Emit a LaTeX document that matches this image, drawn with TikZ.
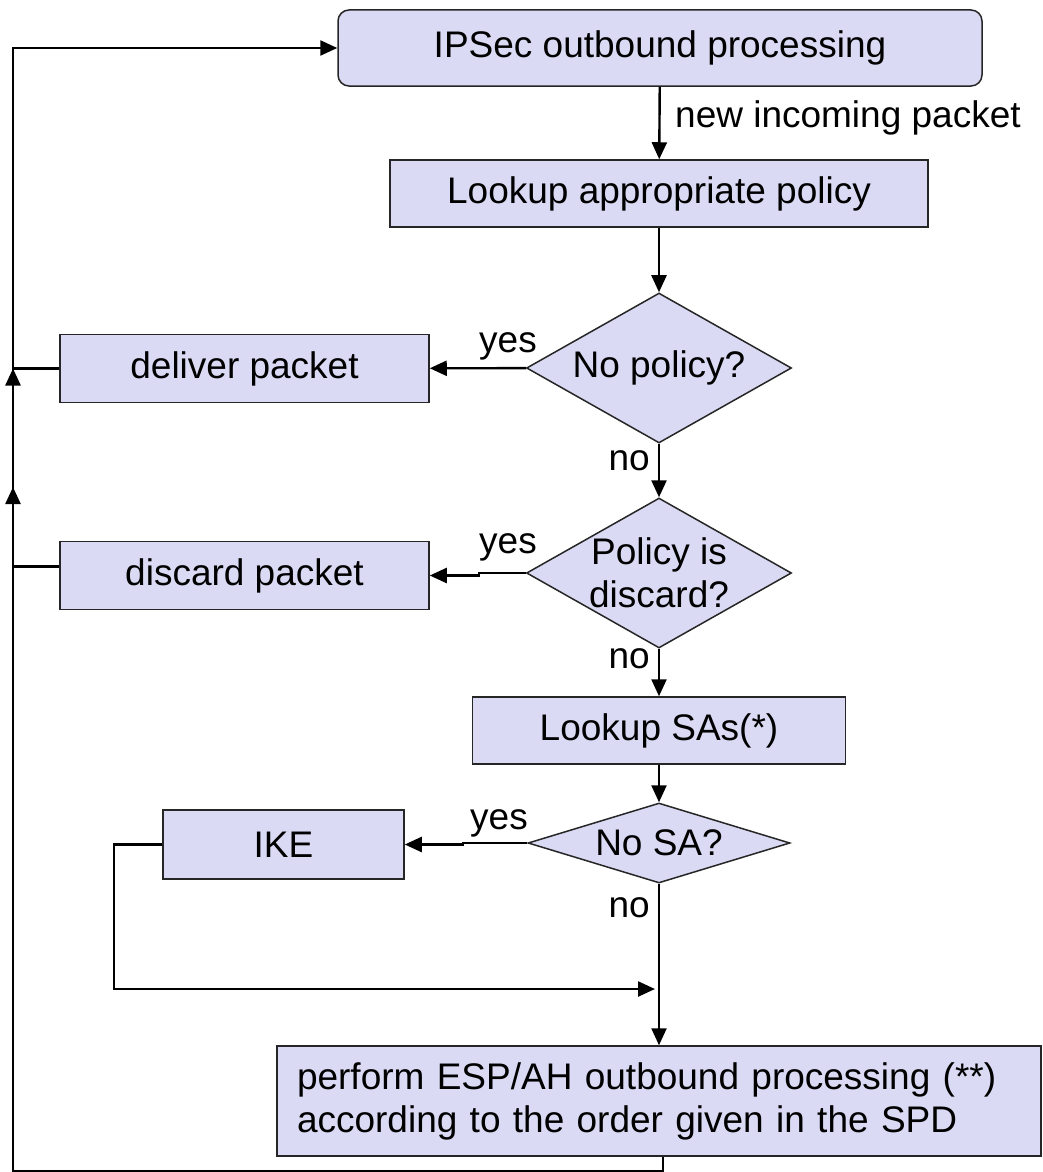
\documentclass[tikz,border=0pt]{standalone}
\usepackage{fontspec}
\setmainfont{Liberation Sans}
\usetikzlibrary{shapes.geometric,arrows.meta,calc}
\definecolor{boxfill}{RGB}{218,218,244}
\tikzset{
  box/.style={draw=black!85,line width=1.5pt,fill=boxfill,inner sep=0pt,minimum height=68pt},
  dia/.style={box,diamond,minimum width=265pt,minimum height=150pt,aspect=1.77,inner sep=-6pt,align=center},
  arr/.style={line width=2.4pt,-{Triangle[length=17pt,width=15pt]}},
  lbl/.style={inner sep=0pt}
}

\begin{document}
\begin{tikzpicture}[x=1pt,y=-1pt,font=\fontsize{37}{43}\selectfont]
\useasboundingbox (0,0) rectangle (1042,1172);
\node[box,rounded corners=11pt,minimum width=644pt,minimum height=76pt] (ipsec) at (660,48) {IPSec outbound processing};
\node[box,minimum width=538pt,minimum height=67pt] (lookpol) at (659,193.5) {Lookup appropriate policy};
\node[dia] (nopol) at (659,368) {No policy?};
\node[box,minimum width=369pt] (deliver) at (244.5,368.5) {deliver packet};
\node[dia] (isdisc) at (659,573) {Policy is\\discard?};
\node[box,minimum width=369pt] (discard) at (244.5,575.5) {discard packet};
\node[box,minimum width=373pt,minimum height=67pt] (looksa) at (659,730.5) {Lookup SAs(*)};
\node[dia,minimum width=262pt,minimum height=80pt,aspect=3.27] (nosa) at (659,843) {No SA?};
\node[box,minimum width=241pt,minimum height=69pt] (ike) at (283.5,844.5) {IKE};
\node[box,minimum width=764pt,minimum height=110pt,inner xsep=20pt,text width=724pt,align=left] (esp) at (659,1101)
  {perform ESP/AH outbound processing (**)\\according to the order given in the SPD};
% main flow
\draw[arr] (ipsec) -- (lookpol);
\node[lbl,anchor=base west] (newpkt) at (675,127) {new incoming packet};
\draw[arr] (lookpol) -- (nopol);
\draw[arr] (nopol) -- (deliver);
\node[lbl,anchor=base east] (yes1) at (537,352) {yes};
\draw[arr] (nopol) -- (isdisc);
\node[lbl,anchor=base east] (no1) at (650,470) {no};
\draw[arr] (isdisc.west) -- ++(-47,0) |- (discard);
\node[lbl,anchor=base east] (yes2) at (537,553) {yes};
\draw[arr] (isdisc) -- (looksa);
\node[lbl,anchor=base east] (no2) at (650,668) {no};
\draw[arr] (looksa) -- (nosa);
\draw[arr] (nosa.west) -- ++(-64,0) |- (ike);
\node[lbl,anchor=base east] (yes3) at (528,829) {yes};
\draw[arr] (nosa) -- (esp);
\node[lbl,anchor=base east] (no3) at (650,917) {no};
\coordinate (ikein) at (655,989);
\draw[arr] (ike.west) -- ++(-48,0) |- (ikein);
% return rail on the left
\coordinate (top) at (13,48);
\draw[arr] (deliver.west) -| (top) -- (ipsec.west);
\coordinate (j1) at (top |- deliver.west);
\draw[arr] ([yshift=9pt]discard.west) -| (j1);
\coordinate (j2) at (13,487);
\draw[arr] ([xshift=4pt]esp.south) -- ++(0,14) -| (j2);
\end{tikzpicture}
\end{document}
